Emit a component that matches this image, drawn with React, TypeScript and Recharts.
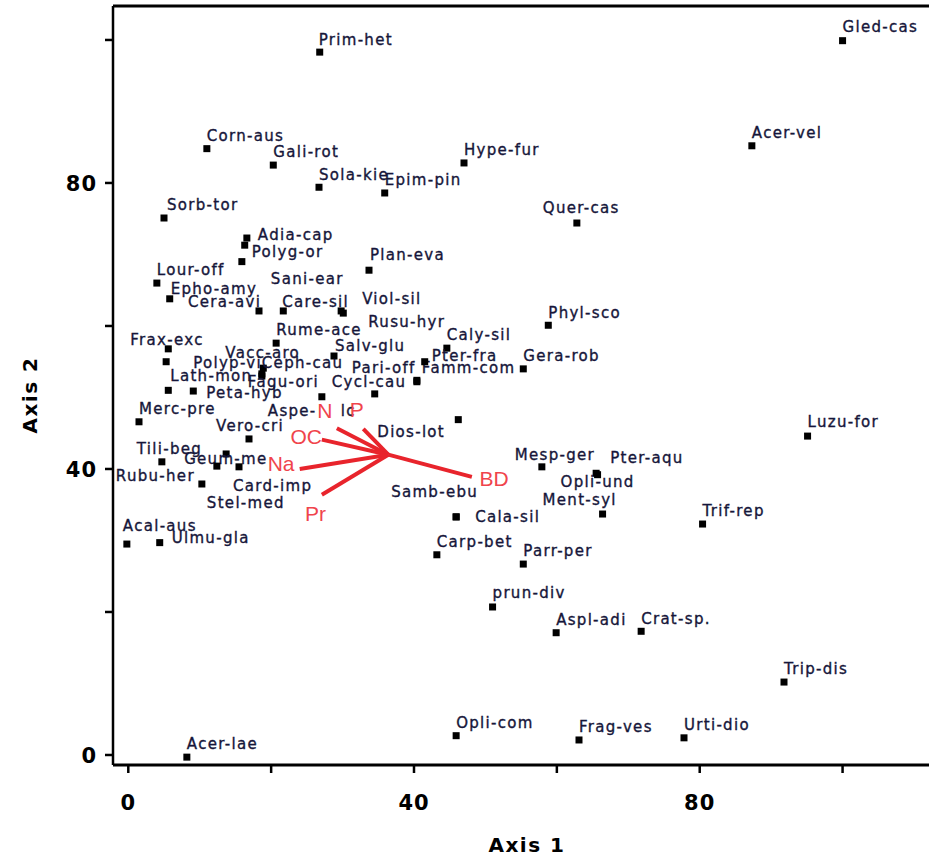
import React from "react";
import { ScatterChart, Scatter, XAxis, YAxis, ReferenceLine, Label } from "recharts";

// species scores (Axis 1 / Axis 2)
const species = [
  "Prim-het", "Corn-aus", "Gali-rot", "Sola-kie", "Epim-pin", "Hype-fur", "Gled-cas", "Acer-vel",
  "Sorb-tor", "Adia-cap", "Polyg-or", "Sani-ear", "Plan-eva", "Lour-off", "Epho-amy", "Cera-avi",
  "Care-sil", "Viol-sil", "Quer-cas", "Phyl-sco", "Rume-ace", "Frax-exc", "Salv-glu", "Caly-sil",
  "Polyp-vi", "Vacc-aro", "Ceph-cau", "Fagu-ori", "Lath-mon", "Peta-hyb", "Pari-off", "Famm-com",
  "Pter-fra", "Cycl-cau", "Rusu-hyr", "Aspe-    lc", "Gera-rob", "Dios-lot", "Merc-pre", "Vero-cri",
  "Tili-beg", "Geum-me", "Card-imp", "Stel-med", "Rubu-her", "Acal-aus", "Ulmu-gla", "Mesp-ger",
  "Pter-aqu", "Opli-und", "Ment-syl", "Samb-ebu", "Cala-sil", "Carp-bet", "Parr-per", "Trif-rep",
  "Luzu-for", "prun-div", "Aspl-adi", "Crat-sp.", "Trip-dis", "Opli-com", "Frag-ves", "Urti-dio",
  "Acer-lae",
];
const axis1 = [
  26.8, 11.0, 20.3, 26.7, 35.9, 47.0, 100.0, 87.3,
  5.0, 16.6, 16.3, 15.9, 33.7, 4.0, 5.8, 18.3,
  21.7, 29.8, 62.8, 58.8, 20.7, 5.6, 28.8, 44.6,
  5.3, 18.9, 18.7, 18.7, 5.6, 9.1, 40.4, 40.4,
  41.5, 34.5, 30.1, 27.1, 55.3, 46.2, 1.5, 16.9,
  4.7, 13.7, 15.5, 12.4, 10.3, -0.2, 4.4, 57.9,
  65.5, 65.7, 66.4, 45.9, 45.9, 43.2, 55.3, 80.4,
  95.1, 51.0, 59.9, 71.8, 91.8, 45.9, 63.1, 77.8,
  8.2,
];
const axis2 = [
  98.3, 84.8, 82.5, 79.4, 78.6, 82.8, 99.9, 85.2,
  75.1, 72.3, 71.3, 69.0, 67.8, 66.0, 63.8, 62.1,
  62.1, 62.1, 74.4, 60.1, 57.6, 56.8, 55.8, 56.9,
  55.0, 54.1, 53.3, 53.0, 51.0, 50.9, 52.4, 52.2,
  55.0, 50.5, 61.8, 50.1, 54.0, 46.9, 46.6, 44.2,
  41.0, 42.1, 40.3, 40.4, 37.9, 29.5, 29.7, 40.3,
  39.4, 39.2, 33.7, 33.3, 33.3, 28.0, 26.7, 32.3,
  44.6, 20.7, 17.1, 17.3, 10.2, 2.7, 2.1, 2.4,
  -0.3,
];

// environmental vectors (joint plot)
const vecOrigin = { x: 36.4, y: 42.0 };
const vecNames = ["N", "P", "OC", "Na", "Pr", "BD"];
const vecEndX = [29.2, 32.9, 27.1, 24.0, 27.1, 48.1];
const vecEndY = [45.7, 45.6, 44.1, 40.0, 36.4, 38.9];
const vecLabelX = [27.5, 32.0, 24.9, 21.4, 26.2, 51.2];
const vecLabelY = [48.1, 48.3, 44.5, 40.7, 33.7, 38.7];

const ticks = [0, 20, 40, 60, 80, 100];

// label nudges in px (left edge, vertical centre) relative to the marker
const nudge: Record<string, [number, number]> = {
  "Adia-cap": [11, -3], "Polyg-or": [7, 7], "Sani-ear": [29, 17], "Plan-eva": [1, -15],
  "Cera-avi": [-71, -9], "Care-sil": [-1, -9], "Viol-sil": [21, -12], "Quer-cas": [-34, -15],
  "Frax-exc": [-38, -9], "Salv-glu": [1, -10], "Polyp-vi": [27, 1], "Vacc-aro": [-38, -15],
  "Ceph-cau": [0, -11], "Fagu-ori": [-14, 6], "Lath-mon": [2, -15], "Peta-hyb": [13, 2],
  "Pari-off": [-65, -13], "Famm-com": [5, -14], "Pter-fra": [7, -6], "Cycl-cau": [-43, -12],
  "Rusu-hyr": [25, 9], "Aspe-    lc": [-54, 14], "Dios-lot": [-81, 12], "Vero-cri": [-33, -13],
  "Tili-beg": [-25, -13], "Geum-me": [-42, 5], "Card-imp": [-6, 19], "Stel-med": [-10, 37],
  "Rubu-her": [-86, -8], "Acal-aus": [-4, -18], "Ulmu-gla": [12, -5], "Mesp-ger": [-27, -12],
  "Pter-aqu": [14, -16], "Opli-und": [-37, 7], "Ment-syl": [-60, -14], "Samb-ebu": [-65, -25],
  "Cala-sil": [19, 0], "Epho-amy": [1, -10], "Luzu-for": [0, -14], "Gled-cas": [0, -14],
  "prun-div": [0, -14], "Sorb-tor": [3, -13], "Prim-het": [-1, -12],
};

const points = species.map((name, i) => ({ name, x: axis1[i], y: axis2[i] }));
const vecLabels = vecNames.map((name, i) => ({ name, x: vecLabelX[i], y: vecLabelY[i] }));

const RED = "#e8242c";

const SpeciesDot = (props: any) => {
  const { cx, cy, payload } = props;
  const [dx, dy] = nudge[payload.name] || [0, -13];
  return (
    <g>
      <rect x={cx - 3.5} y={cy - 3.5} width={7} height={7} fill="#000" />
      <text
        x={cx + dx}
        y={cy + dy}
        dy="0.35em"
        fontFamily="DejaVu Sans"
        fontSize={15}
        letterSpacing={1.3}
        fill="#16163a"
        stroke="#16163a"
        strokeWidth={0.35}
        style={{ whiteSpace: "pre" }}
      >
        {payload.name}
      </text>
    </g>
  );
};

const VecLabel = (props: any) => {
  const { cx, cy, payload } = props;
  return (
    <text x={cx} y={cy} dy="0.35em" textAnchor="middle" fontFamily="Liberation Sans" fontSize={21} fill="#f0444c">
      {payload.name}
    </text>
  );
};

const tickFont = { fontFamily: "DejaVu Sans", fontSize: 21, fontWeight: 700, fill: "#000", letterSpacing: 1 };

const YTick = (props: any) => {
  const { x, y, payload } = props;
  if (payload.value % 40 !== 0) return <g />;
  return (
    <text x={x} y={y} dy="0.36em" textAnchor="end" {...tickFont}>
      {payload.value}
    </text>
  );
};

const XTick = (props: any) => {
  const { x, y, payload } = props;
  if (payload.value % 40 !== 0) return <g />;
  return (
    <text x={x} y={y} dy="0.72em" textAnchor="middle" {...tickFont}>
      {payload.value}
    </text>
  );
};

export default function App() {
  return (
    <div style={{ position: "absolute", left: 0, top: 0, background: "#fff" }}>
      <ScatterChart width={929} height={858} margin={{ top: 6, right: 0, bottom: 43, left: 53 }}>
        <XAxis
          type="number"
          dataKey="x"
          domain={[-2.14, 112.1]}
          ticks={ticks}
          allowDataOverflow
          height={50}
          tick={<XTick />}
          tickSize={8}
          tickMargin={22}
          axisLine={{ stroke: "#000", strokeWidth: 3 }}
          tickLine={{ stroke: "#000", strokeWidth: 2.5 }}
        >
          <Label
            content={(p: any) => (
              <text
                x={p.viewBox.x + p.viewBox.width / 2 + 6}
                y={845}
                dy="0.35em"
                textAnchor="middle"
                fontFamily="DejaVu Sans"
                fontSize={20}
                fontWeight={700}
                letterSpacing={1.5}
                fill="#000"
              >
                Axis 1
              </text>
            )}
          />
        </XAxis>
        <YAxis
          type="number"
          dataKey="y"
          domain={[-1.4, 104.75]}
          ticks={ticks}
          allowDataOverflow
          width={60}
          tick={<YTick />}
          tickSize={8}
          tickMargin={8}
          axisLine={{ stroke: "#000", strokeWidth: 2.5 }}
          tickLine={{ stroke: "#000", strokeWidth: 2.5 }}
        >
          <Label
            content={() => (
              <text
                x={30}
                y={395}
                dy="0.35em"
                textAnchor="middle"
                transform="rotate(-90 30 395)"
                fontFamily="DejaVu Sans"
                fontSize={20}
                fontWeight={700}
                letterSpacing={1.5}
                fill="#000"
              >
                Axis 2
              </text>
            )}
          />
        </YAxis>
        <ReferenceLine y={104.75} stroke="#000" strokeWidth={3} />
        {vecNames.map((n, i) => (
          <Scatter
            key={n}
            data={[vecOrigin, { x: vecEndX[i], y: vecEndY[i] }]}
            line={{ stroke: RED, strokeWidth: 4 }}
            shape={() => <g />}
            isAnimationActive={false}
          />
        ))}
        <Scatter data={points} shape={<SpeciesDot />} isAnimationActive={false} />
        <Scatter data={vecLabels} shape={<VecLabel />} isAnimationActive={false} />
      </ScatterChart>
    </div>
  );
}
